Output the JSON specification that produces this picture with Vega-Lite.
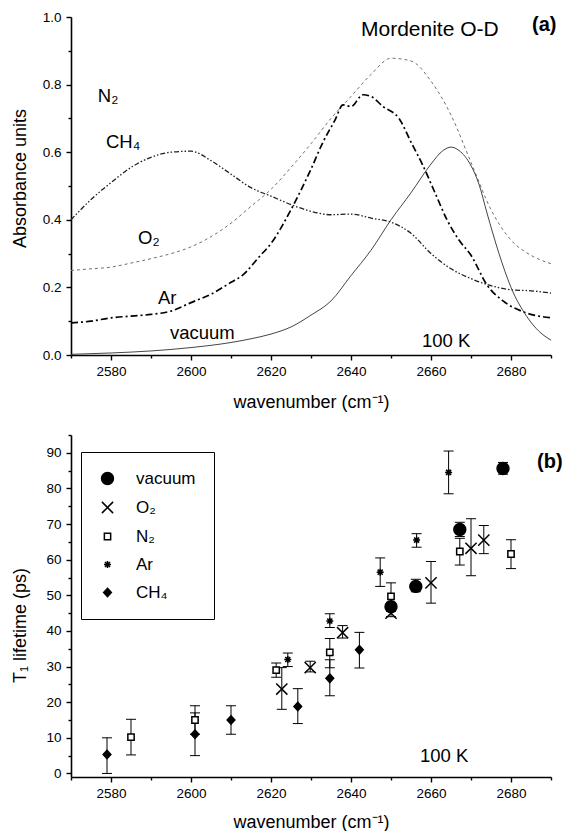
{
  "$schema": "https://vega.github.io/schema/vega-lite/v6.json",
  "padding": {"left": 11, "top": 10, "right": 0, "bottom": 0},
  "spacing": 80,
  "bounds": "flush",
  "resolve": {"legend": {"shape": "independent", "fill": "independent", "stroke": "independent"}},
  "config": {
    "view": {"stroke": null},
    "font": "Liberation Sans",
    "axis": {
      "domainColor": "black", "domainWidth": 1.6, "tickColor": "black", "tickWidth": 1.4, "tickSize": 5,
      "labelColor": "black", "titleColor": "black", "labelFont": "Liberation Sans", "titleFont": "Liberation Sans",
      "labelFontSize": 13.5, "titleFontSize": 18, "titleFontWeight": "normal", "grid": false,
      "labelBound": false, "labelFlush": false, "labelOverlap": false
    },
    "text": {"font": "Liberation Sans", "color": "black"},
    "legend": {
      "orient": "none", "legendX": 10, "legendY": 17, "strokeColor": "black", "fillColor": "white",
      "padding": 18, "rowPadding": 10, "labelFontSize": 17, "labelOffset": 20, "labelFont": "Liberation Sans",
      "labelColor": "black", "symbolSize": 196, "symbolStrokeWidth": 1.5, "symbolStrokeColor": "black", "symbolLimit": 0
    }
  },
  "datasets": {
    "spectra": [
      {"gas": "O2", "wn": 2570, "abs": 0.25}, {"gas": "O2", "wn": 2575, "abs": 0.255}, {"gas": "O2", "wn": 2580, "abs": 0.26},
      {"gas": "O2", "wn": 2585, "abs": 0.272}, {"gas": "O2", "wn": 2590, "abs": 0.285}, {"gas": "O2", "wn": 2595, "abs": 0.3},
      {"gas": "O2", "wn": 2600, "abs": 0.32}, {"gas": "O2", "wn": 2605, "abs": 0.35}, {"gas": "O2", "wn": 2610, "abs": 0.39},
      {"gas": "O2", "wn": 2615, "abs": 0.44}, {"gas": "O2", "wn": 2620, "abs": 0.49}, {"gas": "O2", "wn": 2625, "abs": 0.555},
      {"gas": "O2", "wn": 2630, "abs": 0.625}, {"gas": "O2", "wn": 2635, "abs": 0.7}, {"gas": "O2", "wn": 2640, "abs": 0.765},
      {"gas": "O2", "wn": 2645, "abs": 0.83}, {"gas": "O2", "wn": 2650, "abs": 0.878}, {"gas": "O2", "wn": 2655, "abs": 0.87},
      {"gas": "O2", "wn": 2660, "abs": 0.81}, {"gas": "O2", "wn": 2665, "abs": 0.71}, {"gas": "O2", "wn": 2670, "abs": 0.57},
      {"gas": "O2", "wn": 2675, "abs": 0.43}, {"gas": "O2", "wn": 2680, "abs": 0.34}, {"gas": "O2", "wn": 2685, "abs": 0.295},
      {"gas": "O2", "wn": 2690, "abs": 0.27},
      {"gas": "Ar", "wn": 2570, "abs": 0.095}, {"gas": "Ar", "wn": 2575, "abs": 0.1}, {"gas": "Ar", "wn": 2580, "abs": 0.11},
      {"gas": "Ar", "wn": 2585, "abs": 0.115}, {"gas": "Ar", "wn": 2590, "abs": 0.12}, {"gas": "Ar", "wn": 2595, "abs": 0.13},
      {"gas": "Ar", "wn": 2600, "abs": 0.155}, {"gas": "Ar", "wn": 2605, "abs": 0.18}, {"gas": "Ar", "wn": 2610, "abs": 0.215},
      {"gas": "Ar", "wn": 2613, "abs": 0.237}, {"gas": "Ar", "wn": 2617, "abs": 0.29}, {"gas": "Ar", "wn": 2620, "abs": 0.33},
      {"gas": "Ar", "wn": 2625, "abs": 0.43}, {"gas": "Ar", "wn": 2630, "abs": 0.55}, {"gas": "Ar", "wn": 2633, "abs": 0.63},
      {"gas": "Ar", "wn": 2636, "abs": 0.695}, {"gas": "Ar", "wn": 2638, "abs": 0.74}, {"gas": "Ar", "wn": 2640, "abs": 0.735},
      {"gas": "Ar", "wn": 2643, "abs": 0.77}, {"gas": "Ar", "wn": 2645, "abs": 0.765}, {"gas": "Ar", "wn": 2648, "abs": 0.735},
      {"gas": "Ar", "wn": 2652, "abs": 0.7}, {"gas": "Ar", "wn": 2655, "abs": 0.63}, {"gas": "Ar", "wn": 2658, "abs": 0.56},
      {"gas": "Ar", "wn": 2661, "abs": 0.48}, {"gas": "Ar", "wn": 2664, "abs": 0.4}, {"gas": "Ar", "wn": 2667, "abs": 0.34},
      {"gas": "Ar", "wn": 2670, "abs": 0.295}, {"gas": "Ar", "wn": 2674, "abs": 0.207}, {"gas": "Ar", "wn": 2678, "abs": 0.16},
      {"gas": "Ar", "wn": 2683, "abs": 0.128}, {"gas": "Ar", "wn": 2690, "abs": 0.11},
      {"gas": "CH4", "wn": 2570, "abs": 0.4}, {"gas": "CH4", "wn": 2575, "abs": 0.46}, {"gas": "CH4", "wn": 2580, "abs": 0.51},
      {"gas": "CH4", "wn": 2585, "abs": 0.555}, {"gas": "CH4", "wn": 2590, "abs": 0.585}, {"gas": "CH4", "wn": 2595, "abs": 0.6},
      {"gas": "CH4", "wn": 2600, "abs": 0.603}, {"gas": "CH4", "wn": 2605, "abs": 0.575}, {"gas": "CH4", "wn": 2610, "abs": 0.535},
      {"gas": "CH4", "wn": 2615, "abs": 0.495}, {"gas": "CH4", "wn": 2620, "abs": 0.47}, {"gas": "CH4", "wn": 2625, "abs": 0.445},
      {"gas": "CH4", "wn": 2630, "abs": 0.425}, {"gas": "CH4", "wn": 2635, "abs": 0.415}, {"gas": "CH4", "wn": 2640, "abs": 0.417},
      {"gas": "CH4", "wn": 2645, "abs": 0.405}, {"gas": "CH4", "wn": 2650, "abs": 0.393}, {"gas": "CH4", "wn": 2655, "abs": 0.36},
      {"gas": "CH4", "wn": 2660, "abs": 0.3}, {"gas": "CH4", "wn": 2665, "abs": 0.255}, {"gas": "CH4", "wn": 2670, "abs": 0.226},
      {"gas": "CH4", "wn": 2675, "abs": 0.205}, {"gas": "CH4", "wn": 2680, "abs": 0.193}, {"gas": "CH4", "wn": 2685, "abs": 0.19},
      {"gas": "CH4", "wn": 2690, "abs": 0.183},
      {"gas": "vacuum", "wn": 2570, "abs": 0.002}, {"gas": "vacuum", "wn": 2580, "abs": 0.006}, {"gas": "vacuum", "wn": 2590, "abs": 0.012},
      {"gas": "vacuum", "wn": 2600, "abs": 0.022}, {"gas": "vacuum", "wn": 2610, "abs": 0.037}, {"gas": "vacuum", "wn": 2615, "abs": 0.048},
      {"gas": "vacuum", "wn": 2620, "abs": 0.062}, {"gas": "vacuum", "wn": 2625, "abs": 0.083}, {"gas": "vacuum", "wn": 2630, "abs": 0.118},
      {"gas": "vacuum", "wn": 2635, "abs": 0.16}, {"gas": "vacuum", "wn": 2640, "abs": 0.235}, {"gas": "vacuum", "wn": 2645, "abs": 0.31},
      {"gas": "vacuum", "wn": 2650, "abs": 0.4}, {"gas": "vacuum", "wn": 2655, "abs": 0.48}, {"gas": "vacuum", "wn": 2660, "abs": 0.565},
      {"gas": "vacuum", "wn": 2663, "abs": 0.605}, {"gas": "vacuum", "wn": 2665, "abs": 0.615}, {"gas": "vacuum", "wn": 2667, "abs": 0.605},
      {"gas": "vacuum", "wn": 2670, "abs": 0.56}, {"gas": "vacuum", "wn": 2672, "abs": 0.505}, {"gas": "vacuum", "wn": 2674, "abs": 0.42},
      {"gas": "vacuum", "wn": 2677, "abs": 0.3}, {"gas": "vacuum", "wn": 2680, "abs": 0.2}, {"gas": "vacuum", "wn": 2684, "abs": 0.113},
      {"gas": "vacuum", "wn": 2687, "abs": 0.07}, {"gas": "vacuum", "wn": 2690, "abs": 0.044}
    ],
    "points": [
      {"gas": "vacuum", "wn": 2678, "t1": 85.6, "lo": 84, "hi": 87.3},
      {"gas": "vacuum", "wn": 2667.2, "t1": 68.5, "lo": 66.5, "hi": 70.5},
      {"gas": "vacuum", "wn": 2656.2, "t1": 52.5, "lo": 51, "hi": 54.5},
      {"gas": "vacuum", "wn": 2650, "t1": 46.8, "lo": 45.5, "hi": 48},
      {"gas": "O₂", "wn": 2622.7, "t1": 23.7, "lo": 18, "hi": 29.7},
      {"gas": "O₂", "wn": 2629.8, "t1": 29.7, "lo": 28.5, "hi": 31.5},
      {"gas": "O₂", "wn": 2637.9, "t1": 39.5, "lo": 38, "hi": 41.5},
      {"gas": "O₂", "wn": 2650, "t1": 45, "lo": 44, "hi": 46},
      {"gas": "O₂", "wn": 2660, "t1": 53.5, "lo": 47.8, "hi": 59.5},
      {"gas": "O₂", "wn": 2670, "t1": 63.2, "lo": 55.5, "hi": 71.5},
      {"gas": "O₂", "wn": 2673.2, "t1": 65.5, "lo": 61.7, "hi": 69.6},
      {"gas": "N₂", "wn": 2585, "t1": 10.2, "lo": 5.2, "hi": 15.2},
      {"gas": "N₂", "wn": 2601, "t1": 15, "lo": 11, "hi": 19},
      {"gas": "N₂", "wn": 2621.3, "t1": 29, "lo": 27, "hi": 31},
      {"gas": "N₂", "wn": 2634.7, "t1": 34, "lo": 29.7, "hi": 37.9},
      {"gas": "N₂", "wn": 2650, "t1": 49.7, "lo": 46, "hi": 53.5},
      {"gas": "N₂", "wn": 2667.2, "t1": 62.3, "lo": 58.5, "hi": 66},
      {"gas": "N₂", "wn": 2680, "t1": 61.6, "lo": 57.5, "hi": 65.6},
      {"gas": "Ar", "wn": 2624.2, "t1": 32, "lo": 30, "hi": 33.8},
      {"gas": "Ar", "wn": 2634.7, "t1": 42.8, "lo": 41, "hi": 44.8},
      {"gas": "Ar", "wn": 2647.3, "t1": 56.5, "lo": 52.5, "hi": 60.5},
      {"gas": "Ar", "wn": 2656.4, "t1": 65.5, "lo": 63.5, "hi": 67.3},
      {"gas": "Ar", "wn": 2664.4, "t1": 84.5, "lo": 78.5, "hi": 90.5},
      {"gas": "CH₄", "wn": 2579, "t1": 5.3, "lo": 0, "hi": 10},
      {"gas": "CH₄", "wn": 2601, "t1": 11, "lo": 5, "hi": 17},
      {"gas": "CH₄", "wn": 2610, "t1": 15, "lo": 11, "hi": 19},
      {"gas": "CH₄", "wn": 2626.7, "t1": 18.8, "lo": 14, "hi": 23.8},
      {"gas": "CH₄", "wn": 2634.7, "t1": 26.7, "lo": 21.8, "hi": 31.9},
      {"gas": "CH₄", "wn": 2642.1, "t1": 34.7, "lo": 29.6, "hi": 39.6}
    ]
  },
  "vconcat": [
    {
      "width": 480,
      "height": 338,
      "resolve": {"axis": {"x": "independent", "y": "independent"}},
      "layer": [
        {
          "data": {"name": "spectra"},
          "transform": [{"filter": "datum.gas === 'O2'"}],
          "mark": {"type": "line", "color": "#707070", "strokeWidth": 1, "strokeDash": [3, 3], "interpolate": "monotone"},
          "encoding": {
            "x": {
              "field": "wn", "type": "quantitative",
              "scale": {"domain": [2570, 2690], "nice": false, "zero": false},
              "axis": {
                "orient": "bottom",
                "values": [2580, 2600, 2620, 2640, 2660, 2680],
                "format": "d", "labelPadding": 4,
                "title": "wavenumber (cm⁻¹)", "titleY": 47, "titleBaseline": "middle"
              }
            },
            "y": {
              "field": "abs", "type": "quantitative",
              "scale": {"domain": [0, 1], "nice": false},
              "axis": {
                "orient": "left",
                "values": [0, 0.2, 0.4, 0.6, 0.8, 1],
                "format": ".1f",
                "labelPadding": 5,
                "title": "Absorbance units", "titleX": -51, "titleY": 161, "titleBaseline": "middle", "titleAlign": "center"
              }
            }
          }
        },
        {
          "data": {"name": "spectra"},
          "transform": [{"filter": "datum.gas === 'Ar'"}],
          "mark": {"type": "line", "color": "black", "strokeWidth": 1.7, "strokeDash": [7, 3, 2, 3], "interpolate": "monotone"},
          "encoding": {"x": {"field": "wn", "type": "quantitative", "axis": null}, "y": {"field": "abs", "type": "quantitative", "axis": null}}
        },
        {
          "data": {"name": "spectra"},
          "transform": [{"filter": "datum.gas === 'CH4'"}],
          "mark": {"type": "line", "color": "#202020", "strokeWidth": 1.3, "strokeDash": [5, 2, 1.5, 2, 1.5, 2], "interpolate": "monotone"},
          "encoding": {"x": {"field": "wn", "type": "quantitative", "axis": null}, "y": {"field": "abs", "type": "quantitative", "axis": null}}
        },
        {
          "data": {"name": "spectra"},
          "transform": [{"filter": "datum.gas === 'vacuum'"}],
          "mark": {"type": "line", "color": "#303030", "strokeWidth": 0.9, "interpolate": "monotone"},
          "encoding": {"x": {"field": "wn", "type": "quantitative", "axis": null}, "y": {"field": "abs", "type": "quantitative", "axis": null}}
        },
        {
          "data": {"values": [
            {"wn": 2576.7, "abs": 0.767, "label": "N₂"},
            {"wn": 2578.75, "abs": 0.631, "label": "CH₄"},
            {"wn": 2586.75, "abs": 0.347, "label": "O₂"},
            {"wn": 2591.75, "abs": 0.169, "label": "Ar"},
            {"wn": 2594.75, "abs": 0.065, "label": "vacuum"},
            {"wn": 2657.75, "abs": 0.041, "label": "100 K"}
          ]},
          "mark": {"type": "text", "align": "left", "baseline": "middle", "fontSize": 18.5},
          "encoding": {"x": {"field": "wn", "type": "quantitative", "axis": null}, "y": {"field": "abs", "type": "quantitative", "axis": null}, "text": {"field": "label"}}
        },
        {
          "data": {"values": [{"wn": 2642.5, "abs": 0.963, "label": "Mordenite O-D"}]},
          "mark": {"type": "text", "align": "left", "baseline": "middle", "fontSize": 21},
          "encoding": {"x": {"field": "wn", "type": "quantitative", "axis": null}, "y": {"field": "abs", "type": "quantitative", "axis": null}, "text": {"field": "label"}}
        },
        {
          "data": {"values": [{"wn": 2685.25, "abs": 0.975, "label": "(a)"}]},
          "mark": {"type": "text", "align": "left", "baseline": "middle", "fontSize": 20, "fontWeight": "bold"},
          "encoding": {
            "x": {"field": "wn", "type": "quantitative", "axis": {"orient": "bottom", "values": [2570, 2590, 2610, 2630, 2650, 2670, 2690], "labels": false, "domain": false, "tickSize": 3, "title": null}},
            "y": {"field": "abs", "type": "quantitative", "axis": {"orient": "left", "values": [0.1, 0.3, 0.5, 0.7, 0.9], "labels": false, "domain": false, "tickSize": 3, "title": null}},
            "text": {"field": "label"}
          }
        }
      ]
    },
    {
      "width": 480,
      "height": 342,
      "resolve": {"axis": {"x": "independent", "y": "independent"}},
      "layer": [
        {
          "data": {"name": "points"},
          "mark": {"type": "rule", "color": "black", "strokeWidth": 1},
          "encoding": {
            "x": {
              "field": "wn", "type": "quantitative",
              "scale": {"domain": [2570, 2690], "nice": false, "zero": false},
              "axis": {
                "orient": "bottom",
                "values": [2580, 2600, 2620, 2640, 2660, 2680],
                "format": "d", "labelPadding": 4,
                "title": "wavenumber (cm⁻¹)", "titleY": 45, "titleBaseline": "middle"
              }
            },
            "y": {
              "field": "lo", "type": "quantitative",
              "scale": {"domain": [-1, 95], "nice": false, "zero": false},
              "axis": {
                "orient": "left",
                "values": [0, 10, 20, 30, 40, 50, 60, 70, 80, 90],
                "labelOverlap": false,
                "labelPadding": 5,
                "title": "T₁ lifetime (ps)", "titleX": -51, "titleY": 190, "titleBaseline": "middle", "titleAlign": "center"
              }
            },
            "y2": {"field": "hi"}
          }
        },
        {
          "data": {"name": "points"},
          "mark": {"type": "tick", "orient": "horizontal", "color": "black", "size": 10, "thickness": 1, "opacity": 1},
          "encoding": {"x": {"field": "wn", "type": "quantitative", "axis": null}, "y": {"field": "lo", "type": "quantitative", "axis": null}}
        },
        {
          "data": {"name": "points"},
          "mark": {"type": "tick", "orient": "horizontal", "color": "black", "size": 10, "thickness": 1, "opacity": 1},
          "encoding": {"x": {"field": "wn", "type": "quantitative", "axis": null}, "y": {"field": "hi", "type": "quantitative", "axis": null}}
        },
        {
          "data": {"name": "points"},
          "mark": {"type": "point", "opacity": 1, "strokeWidth": 1.5},
          "encoding": {
            "x": {"field": "wn", "type": "quantitative", "axis": null},
            "y": {"field": "t1", "type": "quantitative", "axis": null},
            "shape": {
              "field": "gas", "type": "nominal", "title": null,
              "scale": {
                "domain": ["vacuum", "O₂", "N₂", "Ar", "CH₄"],
                "range": [
                  "M-0.85,0A0.85,0.85,0,1,0,0.85,0A0.85,0.85,0,1,0,-0.85,0Z",
                  "M-0.8,-0.8L0.8,0.8M-0.8,0.8L0.8,-0.8",
                  "M-0.45,-0.45H0.45V0.45H-0.45Z",
                  "M-0.5,0H0.5M0,-0.5V0.5M-0.36,-0.36L0.36,0.36M-0.36,0.36L0.36,-0.36",
                  "M0,-0.6L0.55,0L0,0.6L-0.55,0Z"
                ]
              }
            },
            "fill": {
              "field": "gas", "type": "nominal", "title": null,
              "scale": {"domain": ["vacuum", "O₂", "N₂", "Ar", "CH₄"], "range": ["black", "transparent", "white", "transparent", "black"]}
            },
            "stroke": {
              "field": "gas", "type": "nominal", "title": null,
              "scale": {"domain": ["vacuum", "O₂", "N₂", "Ar", "CH₄"], "range": ["black", "black", "black", "black", "black"]}
            },
            "size": {"value": 196}
          }
        },
        {
          "data": {"values": [{"wn": 2657.25, "t1": 4.8, "label": "100 K"}]},
          "mark": {"type": "text", "align": "left", "baseline": "middle", "fontSize": 18.5},
          "encoding": {"x": {"field": "wn", "type": "quantitative", "axis": null}, "y": {"field": "t1", "type": "quantitative", "axis": null}, "text": {"field": "label"}}
        },
        {
          "data": {"values": [{"wn": 2686.5, "t1": 87.3, "label": "(b)"}]},
          "mark": {"type": "text", "align": "left", "baseline": "middle", "fontSize": 20, "fontWeight": "bold"},
          "encoding": {
            "x": {"field": "wn", "type": "quantitative", "axis": {"orient": "bottom", "values": [2570, 2590, 2610, 2630, 2650, 2670, 2690], "labels": false, "domain": false, "tickSize": 3, "title": null}},
            "y": {"field": "t1", "type": "quantitative", "axis": {"orient": "left", "values": [5, 15, 25, 35, 45, 55, 65, 75, 85, 95], "labels": false, "domain": false, "tickSize": 3, "title": null}},
            "text": {"field": "label"}
          }
        }
      ]
    }
  ]
}
